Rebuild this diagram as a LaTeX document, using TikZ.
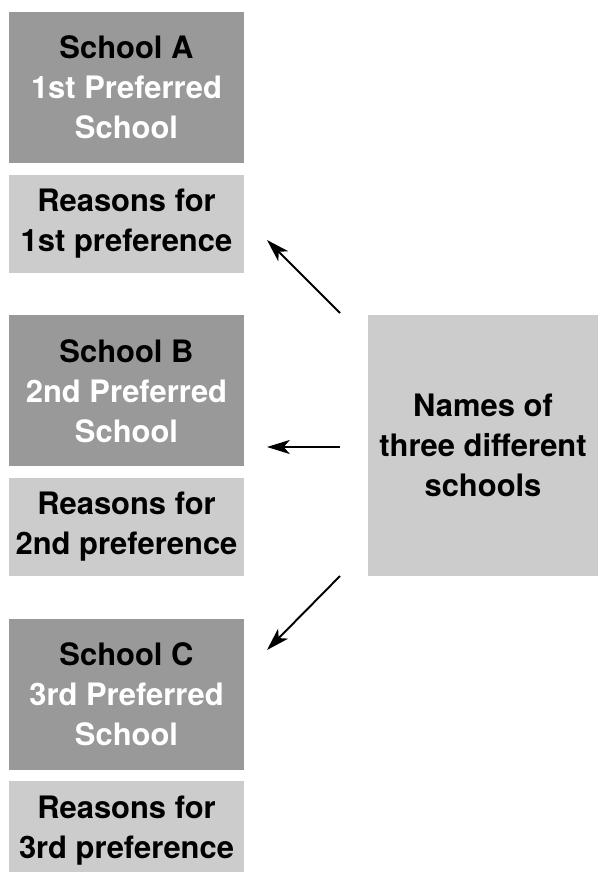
\documentclass[tikz,border=0pt]{standalone}
\usepackage{fontspec}
\setmainfont{TeX Gyre Heros}
\usepackage{xcolor}
\usetikzlibrary{
  arrows,
  positioning,
  arrows.meta
}
\definecolor{darkbox}{gray}{0.6}
\definecolor{lightbox}{gray}{0.8}
\tikzset{
  box/.style={rectangle, inner sep=0, align=center,
    font=\fontsize{17.6}{22.7}\selectfont\bfseries},
  schoolbox/.style={box, fill=darkbox, minimum width=4.7cm, minimum height=3.02cm},
  reasonbox/.style={box, fill=lightbox, minimum width=4.7cm, minimum height=1.96cm},
  namebox/.style={box, fill=lightbox, minimum width=4.6cm, minimum height=5.22cm},
  pointer/.style={->, >={Stealth[length=13pt,width=8pt,inset=3.5pt]}, line width=1.1}
}

\begin{document}
\begin{tikzpicture}[x=0.02cm, y=-0.02cm]
            \useasboundingbox (0, 0) rectangle (598, 872);

            % preferred schools, top to bottom
            \node[schoolbox] (schoolA) at (126.5, 87.5)
            {School A\\ {\color{white}1st Preferred}\\ {\color{white}School}};
            \node[reasonbox, below=0.22cm of schoolA] (reasonA)
            {Reasons for\\ 1st preference};

            \node[schoolbox, below=0.84cm of reasonA] (schoolB)
            {School B\\ {\color{white}2nd Preferred}\\ {\color{white}School}};
            \node[reasonbox, below=0.22cm of schoolB] (reasonB)
            {Reasons for\\ 2nd preference};

            \node[schoolbox, below=0.84cm of reasonB] (schoolC)
            {School C\\ {\color{white}3rd Preferred}\\ {\color{white}School}};
            \node[reasonbox, below=0.22cm of schoolC] (reasonC)
            {Reasons for\\ 3rd preference};

            % the three names
            \node[namebox] (names) at (483, 445.5)
            {Names of\\ three different\\ schools};

            \coordinate (fromA) at (340, 313);
            \coordinate (toA) at (267, 240);
            \coordinate (fromB) at (340, 447);
            \coordinate (toB) at (267, 447);
            \coordinate (fromC) at (340, 576);
            \coordinate (toC) at (267, 650);

            \draw[pointer] (fromA) -- (toA);
            \draw[pointer] (fromB) -- (toB);
            \draw[pointer] (fromC) -- (toC);
          \end{tikzpicture}
\end{document}
